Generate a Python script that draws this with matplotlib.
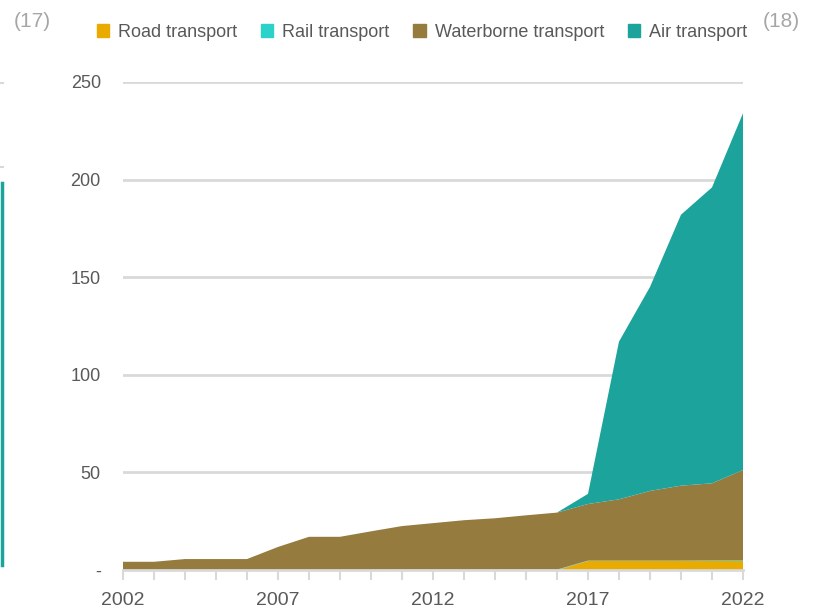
import numpy as np
import matplotlib.pyplot as plt
from matplotlib.lines import Line2D

years = list(range(2002, 2023))
road = [0, 0, 0, 0, 0, 0, 0, 0, 0, 0, 0, 0, 0, 0, 0,
        4.6, 4.6, 4.6, 4.6, 4.6, 4.6]
rail = [0, 0, 0, 0, 0, 0, 0, 0, 0, 0.2, 0.2, 0.2, 0.2, 0.2, 0.2,
        0.2, 0.2, 0.2, 0.2, 0.3, 0.4]
waterborne = [4.2, 4.2, 5.6, 5.6, 5.6, 11.8, 17.0, 17.0, 19.8, 22.3, 23.8, 25.3, 26.3, 27.8, 29.2,
              29.0, 31.4, 35.7, 38.4, 39.5, 46.2]
air = [0, 0, 0, 0, 0, 0, 0, 0, 0, 0, 0, 0, 0, 0, 0,
       5.2, 80.8, 104.5, 138.8, 151.6, 182.8]

series_names = ["Road transport", "Rail transport", "Waterborne transport", "Air transport"]
colors = ["#EAAB00", "#2AD2C9", "#967B3F", "#1BA39C"]
xtick_years = [2002, 2007, 2012, 2017, 2022]
ytick_vals = [0, 50, 100, 150, 200, 250]
ytick_labels = ["-", "50", "100", "150", "200", "250"]

plt.rcParams['font.family'] = ['Liberation Sans', 'DejaVu Sans']
text_col = "#595959"
grid_col = "#D9D9D9"

fig = plt.figure(figsize=(8.21, 6.10), dpi=100)
ax = fig.add_axes([0.1498, 0.0656, 0.7552, 0.8000])

ax.stackplot(years, road, rail, waterborne, air, colors=colors, linewidth=0)

ax.set_xlim(2002, 2022)
ax.set_ylim(0, 250)

ax.set_yticks(ytick_vals)
ax.set_yticklabels(ytick_labels)
ax.yaxis.grid(True, color=grid_col, linewidth=2)
ax.set_axisbelow(True)
ax.tick_params(axis='y', length=0, pad=16, labelsize=13, labelcolor=text_col)

ax.set_xticks(years, minor=True)
ax.set_xticks(xtick_years)
ax.tick_params(axis='x', which='both', direction='out', length=7, width=1.5,
               color=grid_col, labelsize=14, labelcolor=text_col, pad=9)

for s in ['top', 'right', 'left']:
    ax.spines[s].set_visible(False)
ax.spines['bottom'].set_color(grid_col)
ax.spines['bottom'].set_linewidth(2)

handles = [plt.Rectangle((0, 0), 1, 1, color=c) for c in colors]
fig.legend(handles, series_names, loc='center', bbox_to_anchor=(0.514, 0.947), ncol=4,
           frameon=False, handlelength=0.7, handleheight=0.7, handletextpad=0.5,
           columnspacing=1.3, prop={'size': 13}, labelcolor=text_col)

fig.text(0.039, 0.965, "(17)", color="#A6A6A6", fontsize=15, ha='center', va='center')
fig.text(0.952, 0.965, "(18)", color="#A6A6A6", fontsize=15, ha='center', va='center')

# edge of the neighbouring chart on the left
fig.add_artist(Line2D([0.002, 0.002], [1 - 565 / 610, 1 - 183 / 610], color="#1BA39C", linewidth=2.5))
for yp in [83, 167]:
    fig.add_artist(Line2D([0.0, 0.004], [1 - yp / 610, 1 - yp / 610], color=grid_col, linewidth=1.5))

fig.savefig("out.png", dpi=100)
